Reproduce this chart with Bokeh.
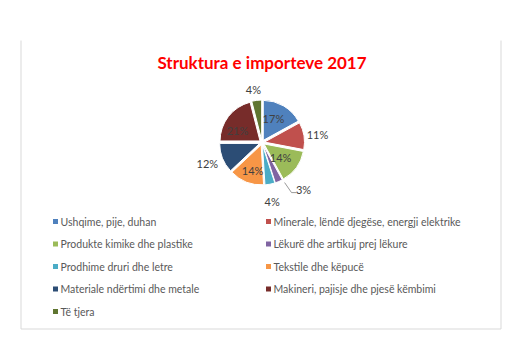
import numpy as np
from bokeh.plotting import figure
from bokeh.models import Range1d
from bokeh.core.properties import value
from bokeh.embed import file_html
from bokeh.resources import INLINE

# ---- data ----
title_text = "Struktura e importeve 2017"
categories = [
    "Ushqime, pije, duhan",
    "Minerale, lëndë djegëse, energji elektrike",
    "Produkte kimike dhe plastike",
    "Lëkurë dhe artikuj prej lëkure",
    "Prodhime druri dhe letre",
    "Tekstile dhe këpucë",
    "Materiale ndërtimi dhe metale",
    "Makineri, pajisje dhe pjesë këmbimi",
    "Të tjera",
]
shares = [17, 11, 14, 3, 4, 14, 12, 21, 4]
colors = ["#4F81BD", "#C0504D", "#9BBB59", "#8064A2", "#4BACC6",
          "#F79646", "#2C4D75", "#772C2A", "#5F7530"]

# ---- styling / layout ----
W, H = 513, 344
FONT = "Lato"
cx, cy_px, R = 261.5, 142.0, 40.0
explode = 2.5
label_rf = [0.66, 1.40, 0.60, 1.57, 1.50, 0.74, 1.46, 0.68, 1.34]
label_shift_deg = [-5, 1, 3, -18, 1, -3, 1, -12, -2]

def Y(ypx):
    return H - ypx

p = figure(width=W, height=H, output_backend="svg", toolbar_location=None,
           x_range=Range1d(0, W), y_range=Range1d(0, H),
           min_border=0, min_border_left=0, min_border_right=0,
           min_border_top=0, min_border_bottom=0)
p.axis.visible = False
p.grid.visible = False
p.outline_line_color = None
p.background_fill_color = "white"
p.border_fill_color = "white"

# frame of the chart area (partially cropped at top)
p.line([20.5, 20.5, 500.5, 500.5], [Y(40), Y(328.5), Y(328.5), Y(40)],
       line_color="#D9D9D9", line_width=1)

# title
p.text(x=[cx], y=[Y(62)], text=[title_text], text_font=value(FONT),
       text_font_style="bold", text_font_size="17px", text_color="#FF0000",
       text_align="center", text_baseline="middle")

# pie wedges (clockwise from 12 o'clock)
vals = np.array(shares, dtype=float)
frac = vals / vals.sum()
cs = np.concatenate([[0], np.cumsum(frac)])
starts = np.pi / 2 - 2 * np.pi * cs[:-1]
ends = np.pi / 2 - 2 * np.pi * cs[1:]
mids = (starts + ends) / 2
xs = cx + explode * np.cos(mids)
ys = Y(cy_px) + explode * np.sin(mids)
p.wedge(x=xs, y=ys, radius=R, start_angle=starts, end_angle=ends,
        direction="clock", fill_color=colors, line_color="white", line_width=1)

# data labels
la = mids - np.deg2rad(label_shift_deg)
lx = cx + np.array(label_rf) * R * np.cos(la)
ly = Y(cy_px) + np.array(label_rf) * R * np.sin(la)
p.text(x=lx, y=ly, text=[f"{v}%" for v in shares], text_font=value(FONT),
       text_font_size="11px", text_color="#404040",
       text_align="center", text_baseline="middle")

# leader line for the small slice (index 3)
i = 3
a0 = mids[i] + np.deg2rad(6)
x0, y0 = cx + 1.15 * R * np.cos(a0), Y(cy_px) + 1.15 * R * np.sin(a0)
p.line([x0, lx[i] - 12, lx[i] - 7], [y0, ly[i] - 3, ly[i] - 3],
       line_color="#7F7F7F", line_width=0.8)

# legend (two columns)
row_y0, row_dy = 221.0, 22.5
col_sq = [55.0, 268.0]
for k, (name, col) in enumerate(zip(categories, colors)):
    r, c = divmod(k, 2)
    yy = Y(row_y0 + r * row_dy)
    p.scatter(x=[col_sq[c]], y=[yy], marker="square", size=5,
              fill_color=col, line_color=None)
    p.text(x=[col_sq[c] + 5], y=[yy], text=[name], text_font=value(FONT),
           text_font_size="10.5px", text_color="#595959",
           text_align="left", text_baseline="middle")

open("out.html", "w").write(file_html(p, INLINE))
